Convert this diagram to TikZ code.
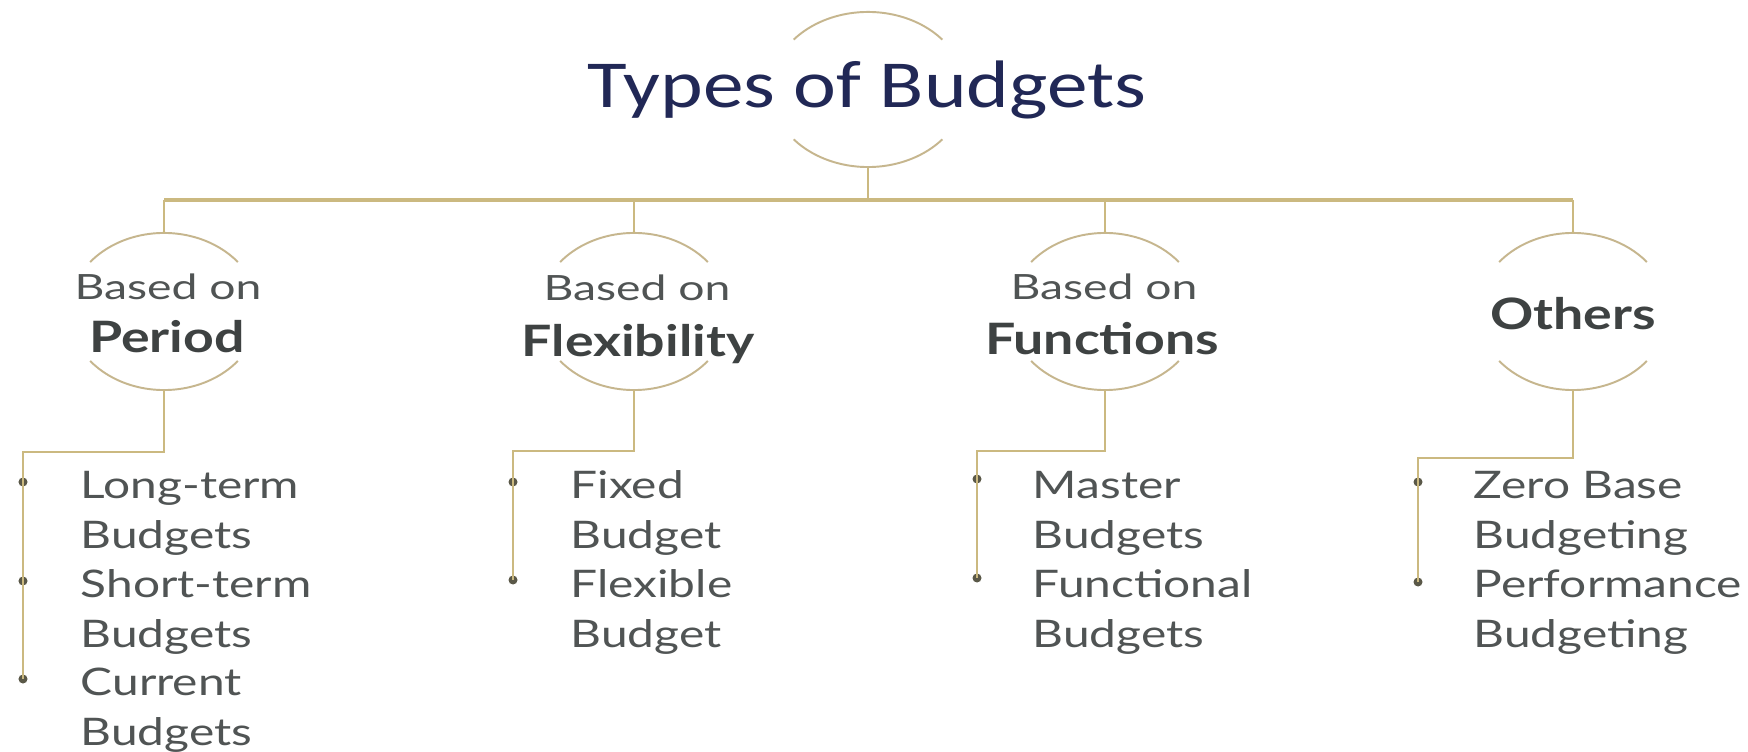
\documentclass[tikz,border=0pt]{standalone}
\usepackage{fontspec}
\newfontfamily\titlefont{Carlito}[FakeStretch=1.21]
\newfontfamily\subfont{Lato}[FakeStretch=1.33]
\newfontfamily\headfont{Lato}[FakeStretch=1.24]
\newfontfamily\itemfont{Lato}[FakeStretch=1.26]
\usetikzlibrary{shapes.geometric}
\definecolor{rulec}{RGB}{203,185,128}
\definecolor{haloc}{RGB}{198,182,142}
\definecolor{ink}{RGB}{80,84,84}
\definecolor{inkbold}{RGB}{62,66,66}
\definecolor{navy}{RGB}{33,40,86}
\definecolor{dotc}{RGB}{90,88,72}

% two open arcs above and below a hub node
\newcommand\drawhalo[4]{%
  \draw[haloline] (#1.center) ++(#4:#2 and #3)
    arc[start angle=#4, end angle=180-#4, x radius=#2, y radius=#3];
  \draw[haloline] (#1.center) ++(180+#4:#2 and #3)
    arc[start angle=180+#4, end angle=360-#4, x radius=#2, y radius=#3];}

\begin{document}
\begin{tikzpicture}[x=0.01cm,y=0.01cm,
  hub/.style={ellipse, minimum width=1.94cm, minimum height=1.56cm, inner sep=0pt},
  haloline/.style={draw=haloc, line width=0.55pt},
  link/.style={draw=rulec, line width=0.8pt},
  bus/.style={draw=rulec, line width=1.2pt},
  titletext/.style={anchor=base, inner sep=0pt, text=navy, font=\titlefont\fontsize{19.1pt}{23pt}\selectfont},
  subtext/.style={anchor=base, inner sep=0pt, text=ink, font=\subfont\fontsize{9.9pt}{12pt}\selectfont},
  headtext/.style={anchor=base, inner sep=0pt, text=inkbold, font=\headfont\bfseries\fontsize{12.3pt}{15pt}\selectfont},
  item/.style={anchor=base west, inner sep=0pt, align=left, text=ink, font=\itemfont\fontsize{10.8pt}{14.06pt}\selectfont},
  dot/.style={circle, fill=dotc, inner sep=0pt, minimum size=0.09cm}]

\useasboundingbox (0,0) rectangle (1748,-752);
\fill[white] (0,0) rectangle (1748,-752);

% root
\node[hub] (t) at (868,-89.5) {};
\node[titletext] (tt) at (867,-108) {Types of Budgets};
\drawhalo{t}{0.97cm}{0.775cm}{40}

% categories
\node[hub] (p)  at (164,-311.5) {};
\node[hub] (fl) at (634,-311.5) {};
\node[hub] (fu) at (1105,-311.5) {};
\node[hub] (ot) at (1573,-311.5) {};
\foreach \h in {p,fl,fu,ot} {\drawhalo{\h}{0.95cm}{0.785cm}{39}}

\node[subtext]  (p1)  at (168,-300)  {Based on};
\node[headtext] (p2)  at (167,-353)  {Period};
\node[subtext]  (fl1) at (637,-301)  {Based on};
\node[headtext] (fl2) at (638,-357)  {Flexibility};
\node[subtext]  (fu1) at (1104,-300) {Based on};
\node[headtext] (fu2) at (1102,-355) {Functions};
\node[headtext] (ot1) at (1573,-330) {Others};

% bus from the root to the categories
\coordinate (bus) at (0,-200);
\draw[link] (t.south) -- (t.south |- bus);
\draw[bus] (p.north |- bus) -- (ot.north |- bus);
\draw[link] (p.north) -- (p.north |- bus);
\draw[link] (fl.north) -- (fl.north |- bus);
\draw[link] (fu.north) -- (fu.north |- bus);
\draw[link] (ot.north) -- (ot.north |- bus);

% Period items (each node sits on the baseline of its second line)
\node[dot] (pd1) at (23,-482) {};
\node[dot] (pd2) at (23,-581) {};
\node[dot] (pd3) at (23,-679) {};
\node[item] (pi1) at (80,-548) {Long-term\\Budgets};
\node[item] (pi2) at (80,-647) {Short-term\\Budgets};
\node[item] (pi3) at (80,-745) {Current\\Budgets};
\coordinate (pk) at (23,-452);
\draw[link] (p.south) |- (pk) -- (pd3.center);

% Flexibility items
\node[dot] (fld1) at (513,-482) {};
\node[dot] (fld2) at (513,-580) {};
\node[item] (fli1) at (570,-548) {Fixed\\Budget};
\node[item] (fli2) at (570,-647) {Flexible\\Budget};
\coordinate (flk) at (513,-451);
\draw[link] (fl.south) |- (flk) -- (fld2.center);

% Functions items
\node[dot] (fud1) at (977,-479) {};
\node[dot] (fud2) at (977,-578) {};
\node[item] (fui1) at (1032,-548) {Master\\Budgets};
\node[item] (fui2) at (1032,-647) {Functional\\Budgets};
\coordinate (fuk) at (977,-451);
\draw[link] (fu.south) |- (fuk) -- (fud2.center);

% Other items
\node[dot] (otd1) at (1418,-482) {};
\node[dot] (otd2) at (1418,-582) {};
\node[item] (oti1) at (1473,-548) {Zero Base\\Budgeting};
\node[item] (oti2) at (1473,-647) {Performance\\Budgeting};
\coordinate (otk) at (1418,-458);
\draw[link] (ot.south) |- (otk) -- (otd2.center);

\end{tikzpicture}
\end{document}
